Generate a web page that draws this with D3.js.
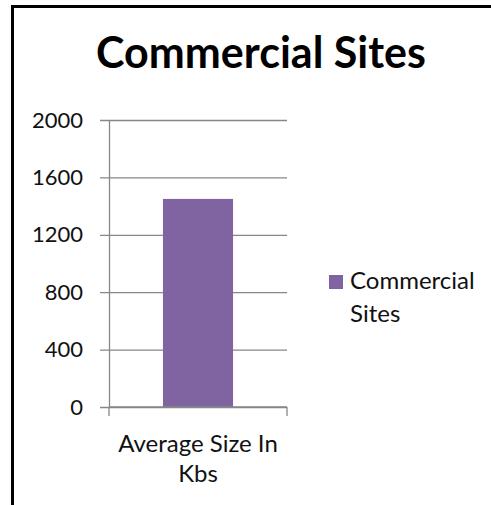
<!DOCTYPE html>
<html>
<head>
<meta charset="utf-8">
<script src="https://cdn.jsdelivr.net/npm/d3@7"></script>
<style>
  html, body { margin: 0; padding: 0; background: #fff; }
  svg { display: block; }
  text { font-family: Lato, "Open Sans", sans-serif; }
</style>
</head>
<body>
<script>
// Chart content
const title = "Commercial Sites";
const categories = ["Average Size In Kbs"];
const categoryLines = [["Average Size In", "Kbs"]];
const seriesName = "Commercial Sites";
const seriesLegendLines = ["Commercial", "Sites"];
const values = [1450];
const yTicks = [0, 400, 800, 1200, 1600, 2000];

const W = 491, H = 505;
const svg = d3.select("body").append("svg").attr("width", W).attr("height", H);

// Outer frame (continues past the right and bottom edges)
svg.append("rect")
  .attr("x", 12.5).attr("y", 6.5)
  .attr("width", 520).attr("height", 540)
  .attr("fill", "#fff").attr("stroke", "#000").attr("stroke-width", 3);

// Title
svg.append("text")
  .attr("x", 261).attr("y", 68)
  .attr("text-anchor", "middle")
  .attr("font-weight", "bold").attr("font-size", 43)
  .attr("fill", "#000")
  .text(title);

const plotLeft = 109, plotRight = 287, plotTop = 120, plotBottom = 407;

const y = d3.scaleLinear().domain([0, 2000]).range([plotBottom, plotTop]);
const x = d3.scaleBand().domain(categories).range([plotLeft, plotRight])
  .paddingInner(0.435).paddingOuter(0.435);

// Horizontal gridlines with short ticks to the left of the axis
const grid = d3.axisLeft(y).tickValues(yTicks)
  .tickSize(-(plotRight - plotLeft)).tickFormat("");
const gGrid = svg.append("g").attr("transform", `translate(${plotLeft},0)`).call(grid);
gGrid.select(".domain").remove();
gGrid.selectAll(".tick line").attr("stroke", "#878787").attr("stroke-width", 1.3)
  .attr("x2", plotRight - plotLeft).attr("x1", -9);

// Y axis with labels
const yAxis = d3.axisLeft(y).tickValues(yTicks).tickSize(0).tickPadding(26)
  .tickFormat(d3.format("d"));
const gY = svg.append("g").attr("transform", `translate(${plotLeft},0)`).call(yAxis);
gY.select(".domain").attr("stroke", "#878787").attr("stroke-width", 1.3);
gY.selectAll(".tick text")
  .attr("font-family", "Lato, sans-serif").attr("font-size", 22).attr("fill", "#111");

// Bars
svg.append("g").selectAll("rect").data(values).join("rect")
  .attr("x", (d, i) => x(categories[i]))
  .attr("y", d => y(d))
  .attr("width", x.bandwidth())
  .attr("height", d => y(0) - y(d))
  .attr("fill", "#8064a2");

// X axis line with ticks at category boundaries
const gX = svg.append("g");
gX.append("line")
  .attr("x1", plotLeft).attr("x2", plotRight)
  .attr("y1", y(0)).attr("y2", y(0))
  .attr("stroke", "#878787").attr("stroke-width", 1.3);
const bounds = [plotLeft, plotRight];
gX.selectAll("line.tick").data(bounds).join("line")
  .attr("class", "tick")
  .attr("x1", d => d).attr("x2", d => d)
  .attr("y1", y(0)).attr("y2", y(0) + 9)
  .attr("stroke", "#878787").attr("stroke-width", 1.3);

// Category labels (wrapped)
categories.forEach((c, i) => {
  const t = svg.append("text")
    .attr("text-anchor", "middle")
    .attr("font-size", 24).attr("fill", "#111");
  categoryLines[i].forEach((line, j) => {
    t.append("tspan")
      .attr("x", x(c) + x.bandwidth() / 2)
      .attr("y", 452 + j * 30)
      .text(line);
  });
});

// Legend
const legend = svg.append("g");
legend.append("rect")
  .attr("x", 329).attr("y", 275)
  .attr("width", 14).attr("height", 14)
  .attr("fill", "#8064a2");
const lt = legend.append("text").attr("font-size", 24).attr("fill", "#111");
seriesLegendLines.forEach((line, j) => {
  lt.append("tspan").attr("x", 350).attr("y", 289 + j * 33).text(line);
});
</script>
</body>
</html>
